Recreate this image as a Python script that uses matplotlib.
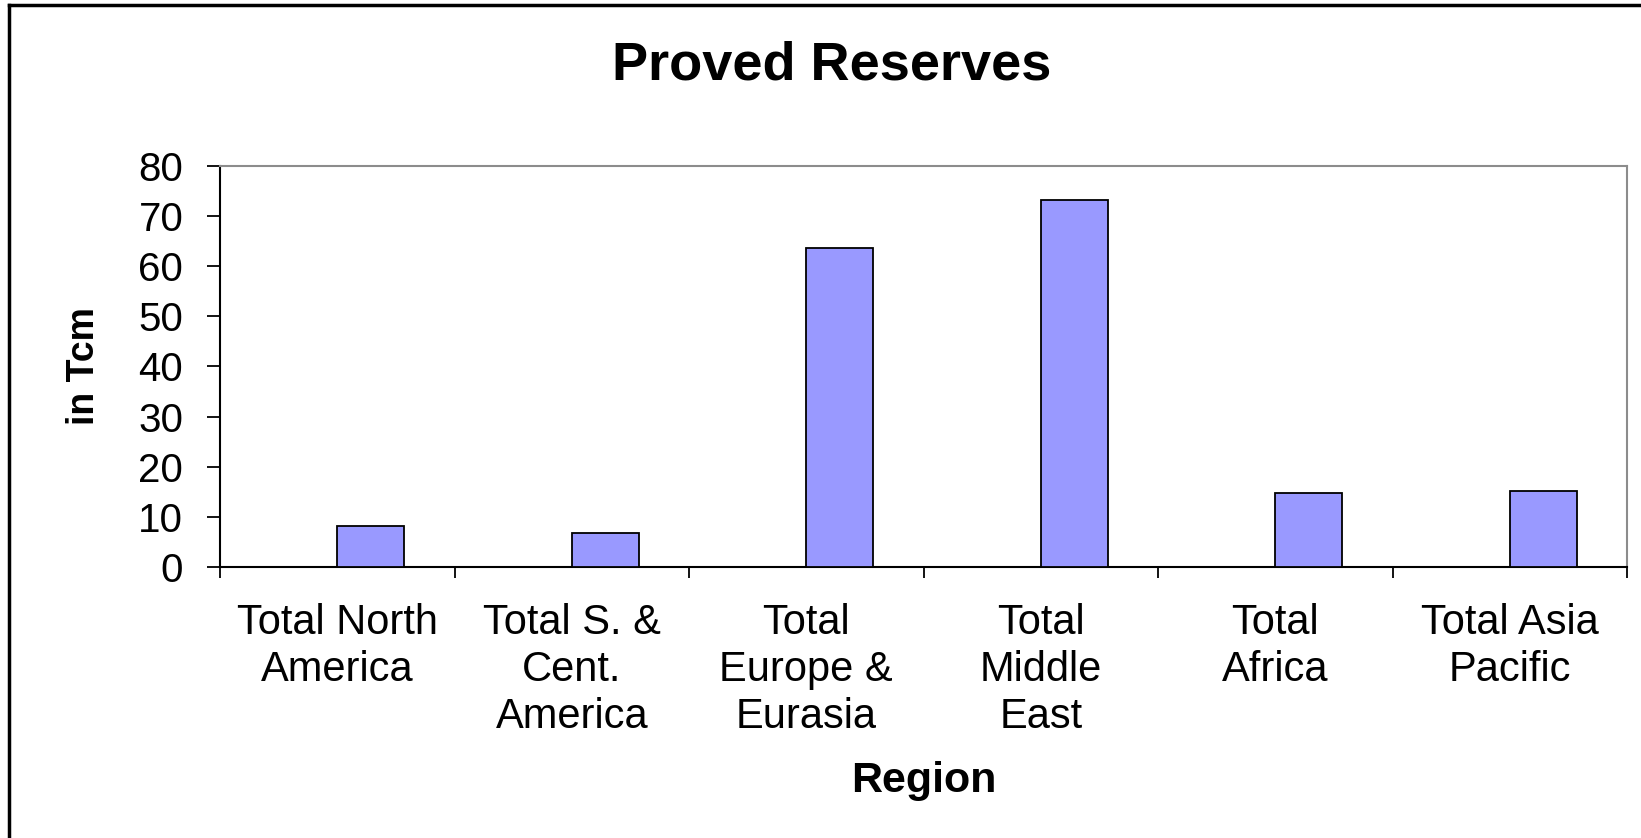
import matplotlib
matplotlib.use("Agg")
import matplotlib.pyplot as plt
from matplotlib.lines import Line2D
import numpy as np

plt.rcParams['font.family'] = ['Liberation Sans', 'DejaVu Sans']

regions = ['Total North\nAmerica', 'Total S. &\nCent.\nAmerica', 'Total\nEurope &\nEurasia',
           'Total\nMiddle\nEast', 'Total\nAfrica', 'Total Asia\nPacific']
reserves = [8.2, 6.7, 63.6, 73.3, 14.7, 15.1]
yticks = list(range(0, 90, 10))

BAR_COLOR = '#9999FF'

fig = plt.figure(figsize=(16.41, 8.38), dpi=100)
ax = fig.add_axes([0.1341, 0.3234, 0.8574, 0.4785])

x = np.arange(len(regions))
# Excel-style clustered layout: the visible series sits in the right half of each slot
ax.bar(x + 0.143, reserves, width=0.286, color=BAR_COLOR, edgecolor='black', linewidth=1.3, zorder=3)

ax.set_xlim(-0.5, len(regions) - 0.5)
ax.set_ylim(0, 80)
ax.set_yticks(yticks)
ax.tick_params(axis='y', direction='out', length=9.5, width=1.3, pad=17, labelsize=29, colors='black')

ax.set_xticks(x)
ax.set_xticklabels(regions, linespacing=1.23)
ax.tick_params(axis='x', which='major', length=0, pad=26, labelsize=30)
ax.set_xticks(np.arange(-0.5, len(regions)), minor=True)
ax.tick_params(axis='x', which='minor', direction='out', length=8, width=1.3)

for s in ['left', 'bottom']:
    ax.spines[s].set_color('black')
    ax.spines[s].set_linewidth(1.5)
for s in ['top', 'right']:
    ax.spines[s].set_color('#8c8c8c')
    ax.spines[s].set_linewidth(1.5)

ax.set_title('Proved Reserves', fontsize=39, fontweight='bold', pad=62, x=0.435)
ax.set_xlabel('Region', fontsize=31, fontweight='bold', labelpad=17)
ax.set_ylabel('in Tcm', fontsize=27, fontweight='bold', labelpad=26)

# chart-area frame (only top and left edges visible in the crop)
fig.add_artist(Line2D([9 / 1641, 9 / 1641], [0, 1 - 5 / 838], transform=fig.transFigure,
                      color='black', linewidth=2.5))
fig.add_artist(Line2D([9 / 1641, 1], [1 - 5 / 838, 1 - 5 / 838], transform=fig.transFigure,
                      color='black', linewidth=2.5))

fig.savefig('out.png', dpi=100)
